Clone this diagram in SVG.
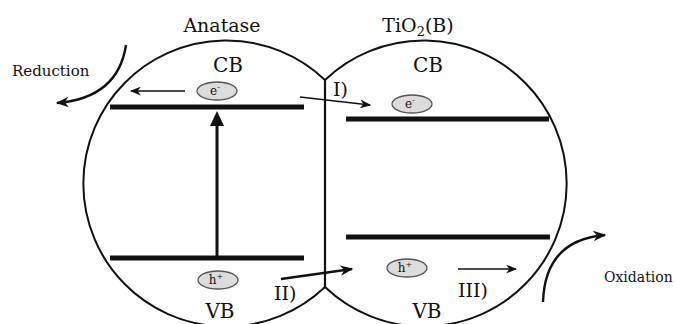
<svg xmlns="http://www.w3.org/2000/svg" width="676" height="324" viewBox="0 0 676 324">
  <style>
    .lbl { font-family: "DejaVu Serif", "Liberation Serif", serif; fill: #111; }
    .outline { fill: none; stroke: #111; stroke-width: 2; }
    .band { stroke: #111; stroke-width: 5; }
    .carrier { fill: #dcdcdc; stroke: #555; stroke-width: 1.3; }
    .thin { fill: none; stroke: #111; stroke-width: 1.6; }
    .mid { fill: none; stroke: #111; stroke-width: 2.4; }
  </style>
  <defs>
    <marker id="barb" viewBox="0 0 10 8" refX="9" refY="4" markerWidth="11" markerHeight="9" markerUnits="userSpaceOnUse" orient="auto">
      <path d="M0,0 L10,4 L0,8 L3,4 z" fill="#111"/>
    </marker>
    <marker id="barbBig" viewBox="0 0 10 8" refX="9" refY="4" markerWidth="13" markerHeight="11" markerUnits="userSpaceOnUse" orient="auto">
      <path d="M0,0 L10,4 L0,8 L3,4 z" fill="#111"/>
    </marker>
  </defs>

  <!-- anatase particle: outer arc -->
  <g id="anatase">
    <path class="outline" d="M325,80 A143,143 0 1,0 325,287"/>
    <text class="lbl" x="222" y="32" font-size="19" text-anchor="middle">Anatase</text>
    <text class="lbl" x="228" y="72" font-size="20" text-anchor="middle">CB</text>
    <text class="lbl" x="220" y="318" font-size="20" text-anchor="middle">VB</text>
    <line class="band" x1="110" y1="107" x2="304" y2="107"/>
    <line class="band" x1="110" y1="258" x2="304" y2="258"/>
  </g>

  <!-- TiO2(B) particle: outer arc -->
  <g id="tio2b">
    <path class="outline" d="M325,80 A143,143 0 1,1 325,287"/>
    <text class="lbl" x="418" y="32" font-size="19" text-anchor="middle">TiO<tspan font-size="13" dy="4">2</tspan><tspan dy="-4">(B)</tspan></text>
    <text class="lbl" x="428" y="72" font-size="20" text-anchor="middle">CB</text>
    <text class="lbl" x="427" y="318" font-size="20" text-anchor="middle">VB</text>
    <line class="band" x1="346" y1="119" x2="549" y2="119"/>
    <line class="band" x1="346" y1="237" x2="550" y2="237"/>
  </g>

  <!-- interface between the two phases -->
  <g id="interface">
    <line x1="325" y1="80" x2="325" y2="287" stroke="#111" stroke-width="2.2"/>
  </g>

  <!-- charge carriers -->
  <g id="electron-anatase">
    <ellipse class="carrier" cx="217" cy="91" rx="20" ry="9"/>
    <text class="lbl" x="215" y="95" font-size="12" text-anchor="middle">e<tspan font-size="8" dy="-5">-</tspan></text>
  </g>
  <g id="electron-tio2b">
    <ellipse class="carrier" cx="412" cy="104" rx="20" ry="9"/>
    <text class="lbl" x="410" y="108" font-size="12" text-anchor="middle">e<tspan font-size="8" dy="-5">-</tspan></text>
  </g>
  <g id="hole-anatase">
    <ellipse class="carrier" cx="218" cy="280" rx="20" ry="9"/>
    <text class="lbl" x="216" y="284" font-size="12" text-anchor="middle">h<tspan font-size="8" dy="-5">+</tspan></text>
  </g>
  <g id="hole-tio2b">
    <ellipse class="carrier" cx="407" cy="268" rx="20" ry="9"/>
    <text class="lbl" x="405" y="272" font-size="12" text-anchor="middle">h<tspan font-size="8" dy="-5">+</tspan></text>
  </g>

  <!-- side labels -->
  <g id="reduction">
    <text class="lbl" x="12" y="76" font-size="15">Reduction</text>
  </g>
  <g id="oxidation">
    <text class="lbl" x="604" y="282" font-size="14">Oxidation</text>
  </g>
  <g id="step-labels">
    <text class="lbl" x="333" y="96" font-size="19">I)</text>
    <text class="lbl" x="274" y="300" font-size="19">II)</text>
    <text class="lbl" x="458" y="297" font-size="19">III)</text>
  </g>

  <!-- connectors -->
  <g id="connectors">
    <line x1="217" y1="258" x2="217" y2="124" stroke="#111" stroke-width="3"/>
    <path d="M210,126 L217,111 L224,126 z" fill="#111"/>
    <line class="thin" x1="185" y1="91" x2="131" y2="91" marker-end="url(#barb)"/>
    <line class="thin" x1="300" y1="97" x2="370" y2="105" marker-end="url(#barb)"/>
    <line class="mid" x1="281" y1="279" x2="352" y2="269" marker-end="url(#barbBig)"/>
    <line class="thin" x1="458" y1="269" x2="516" y2="269" marker-end="url(#barb)"/>
    <path class="mid" d="M126,45 Q118,98 57,103" marker-end="url(#barbBig)"/>
    <path class="mid" d="M543,302 Q545,240 605,235" marker-end="url(#barbBig)"/>
  </g>
</svg>
